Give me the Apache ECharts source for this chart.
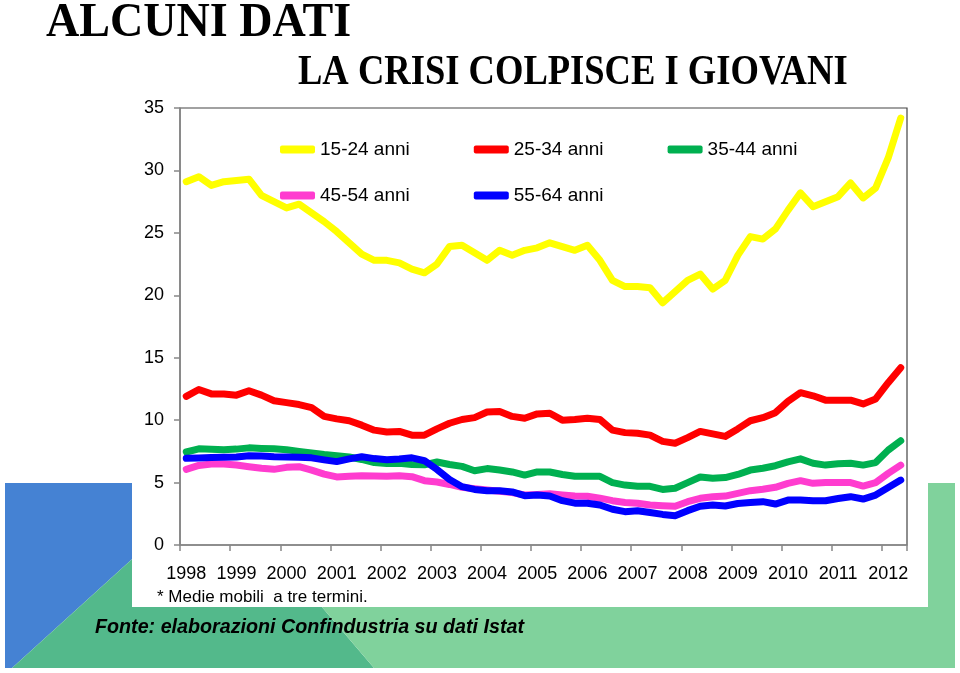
<!DOCTYPE html>
<html><head><meta charset="utf-8">
<script src="https://cdn.jsdelivr.net/npm/echarts@6/dist/echarts.min.js"></script>
<style>html,body{margin:0;padding:0;background:#fff}#c{width:960px;height:673px}</style>
</head><body><div id="c"></div>
<script>
// Tick labels (years) and quarterly categories: 1998 T1 .. 2012 T2 (58 quarters)
const yearLabels = ['1998','1999','2000','2001','2002','2003','2004','2005','2006','2007','2008','2009','2010','2011','2012'];
const quarterNames = ['T1','T2','T3','T4'];
const categories = [];
yearLabels.forEach(y => quarterNames.forEach(q => categories.push(y + ' ' + q)));
categories.length = 58;

const seriesNames = ['15-24 anni','25-34 anni','35-44 anni','45-54 anni','55-64 anni'];

// Tasso di disoccupazione per classe di età (medie mobili a tre termini)
const age15_24 = [29.1,29.5,28.8,29.1,29.2,29.3,28.0,27.5,27.0,27.3,26.6,25.9,25.1,24.2,23.3,22.8,22.8,22.6,22.1,21.8,
  22.5,23.9,24.0,23.4,22.8,23.6,23.2,23.6,23.8,24.2,23.9,23.6,24.0,22.8,21.2,20.7,20.7,20.6,19.4,20.3,
  21.2,21.7,20.5,21.2,23.2,24.7,24.5,25.3,26.8,28.2,27.1,27.5,27.9,29.0,27.8,28.6,31.0,34.2];
const age25_34 = [11.9,12.45,12.1,12.1,12.0,12.35,12.0,11.55,11.4,11.25,11.0,10.3,10.1,9.95,9.6,9.2,9.05,9.1,8.8,8.8,
  9.3,9.75,10.05,10.2,10.65,10.7,10.3,10.15,10.5,10.55,10.0,10.05,10.15,10.05,9.2,9.0,8.95,8.8,8.3,8.15,
  8.6,9.1,8.9,8.7,9.3,9.95,10.2,10.6,11.5,12.2,11.95,11.6,11.6,11.6,11.3,11.7,13.0,14.2];
const age35_44 = [7.45,7.7,7.67,7.63,7.68,7.78,7.73,7.7,7.63,7.5,7.38,7.25,7.15,7.05,6.85,6.6,6.52,6.55,6.45,6.42,
  6.65,6.45,6.3,5.95,6.12,6.0,5.85,5.6,5.85,5.85,5.65,5.5,5.5,5.5,5.0,4.8,4.7,4.7,4.45,4.55,
  5.0,5.45,5.35,5.4,5.65,6.0,6.15,6.35,6.65,6.9,6.55,6.4,6.5,6.55,6.4,6.6,7.6,8.35];
const age45_54 = [6.06,6.37,6.48,6.49,6.4,6.27,6.14,6.06,6.22,6.27,6.0,5.68,5.45,5.5,5.55,5.52,5.5,5.55,5.47,5.15,
  5.05,4.85,4.62,4.5,4.4,4.3,4.2,4.0,4.05,4.1,4.0,3.92,3.9,3.75,3.55,3.4,3.35,3.2,3.15,3.1,
  3.47,3.74,3.87,3.92,4.14,4.35,4.46,4.62,4.94,5.15,4.94,5.0,5.0,5.0,4.72,5.0,5.74,6.4];
const age55_64 = [6.94,6.97,7.0,7.03,7.05,7.15,7.12,7.07,7.05,7.02,6.98,6.82,6.68,6.9,7.07,6.92,6.83,6.88,6.98,6.75,
  6.05,5.25,4.67,4.45,4.35,4.35,4.25,3.95,4.0,3.92,3.55,3.35,3.35,3.2,2.86,2.67,2.75,2.6,2.45,2.35,
  2.75,3.1,3.2,3.12,3.32,3.4,3.47,3.28,3.6,3.6,3.55,3.55,3.72,3.87,3.68,4.0,4.6,5.2];

const seriesData = [age15_24, age25_34, age35_44, age45_54, age55_64];
const colors = ['#ffff00','#ff0000','#00b050','#ff3ccf','#0000ff'];

const chart = echarts.init(document.getElementById('c'), null, {renderer:'canvas'});
const labelFont = '"Liberation Sans", Arial, sans-serif';

const legendCommon = { padding: 0, itemWidth: 35, itemHeight: 8, itemGap: 64, icon: 'roundRect', selectedMode: false,
  textStyle: { fontSize: 19, color: '#000', fontFamily: labelFont } };

chart.setOption({
  animation: false,
  backgroundColor: '#ffffff',
  color: colors,
  grid: { left: 180, right: 53, top: 108, bottom: 128, show: true, borderColor: '#444', borderWidth: 1.2, backgroundColor: 'transparent' },
  legend: [
    Object.assign({ data: seriesNames.slice(0,3), left: 280, top: 140 }, legendCommon),
    Object.assign({ data: seriesNames.slice(3), left: 280, top: 186 }, legendCommon)
  ],
  xAxis: {
    type: 'category', data: categories, boundaryGap: true,
    axisLine: { show: true, lineStyle: { color: '#888', width: 1.5 } },
    axisTick: { show: true, interval: 3, alignWithLabel: false, length: 6, lineStyle: { color: '#888', width: 1.5 } },
    axisLabel: { interval: 3, margin: 20, fontSize: 18, color: '#000', fontFamily: labelFont,
      formatter: v => v.slice(0,4) },
    splitLine: { show: false }
  },
  yAxis: {
    type: 'value', min: 0, max: 35, interval: 5,
    axisLine: { show: true, lineStyle: { color: '#888', width: 1.5 } },
    axisTick: { show: true, length: 6, lineStyle: { color: '#888', width: 1.5 } },
    axisLabel: { fontSize: 18, color: '#000', margin: 16, fontFamily: labelFont },
    splitLine: { show: false }
  },
  series: seriesNames.map((n, i) => ({
    name: n, type: 'line', data: seriesData[i], symbol: 'none', smooth: false,
    lineStyle: { width: 7, color: colors[i], cap: 'round', join: 'round' },
    itemStyle: { color: colors[i] }, z: 3 + i
  })),
  graphic: [
    { type: 'polygon', z: -20, silent: true, shape: { points: [[5,483],[216,483],[12,668],[5,668]] }, style: { fill: '#4582d3' } },
    { type: 'polygon', z: -19, silent: true, shape: { points: [[12,668],[216,483],[374,668]] }, style: { fill: '#53b98b' } },
    { type: 'polygon', z: -18, silent: true, shape: { points: [[216,483],[955,483],[955,668],[374,668]] }, style: { fill: '#80d29c' } },
    { type: 'rect', z: -10, silent: true, shape: { x: 132, y: 95, width: 796, height: 512 }, style: { fill: '#ffffff' } },
    { type: 'text', z: 50, x: 46, y: 24, scaleX: 0.96,
      style: { text: 'ALCUNI DATI', fontSize: 48, fontWeight: 'bold', fontFamily: '"Liberation Serif", serif', fill: '#000',
        textAlign: 'left', textVerticalAlign: 'middle' } },
    { type: 'text', z: 50, x: 298, y: 73, scaleX: 0.87,
      style: { text: 'LA CRISI COLPISCE I GIOVANI', fontSize: 42, fontWeight: 'bold', fontFamily: '"Liberation Serif", serif', fill: '#000',
        textAlign: 'left', textVerticalAlign: 'middle' } },
    { type: 'text', z: 50, x: 157, y: 597,
      style: { text: '* Medie mobili  a tre termini.', fontSize: 17, fontFamily: labelFont, fill: '#000',
        textAlign: 'left', textVerticalAlign: 'middle' } },
    { type: 'text', z: 50, x: 95, y: 627, scaleX: 0.985,
      style: { text: 'Fonte: elaborazioni Confindustria su dati Istat', fontSize: 20, fontWeight: 'bold', fontStyle: 'italic',
        fontFamily: labelFont, fill: '#000', textAlign: 'left', textVerticalAlign: 'middle' } }
  ]
});
</script></body></html>
